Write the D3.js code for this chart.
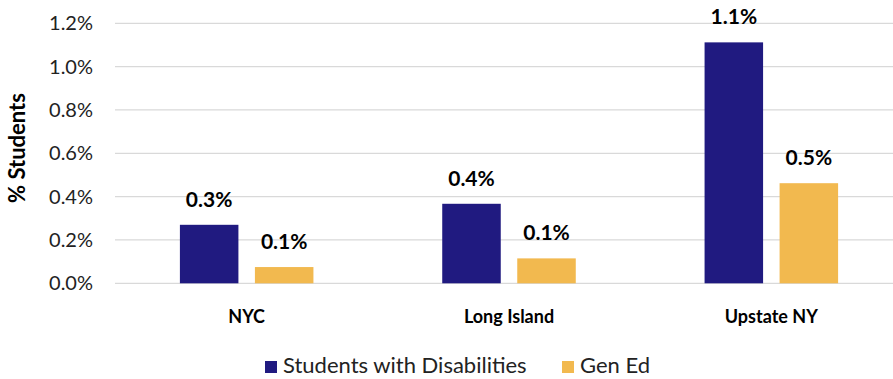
<!DOCTYPE html>
<html lang="en">
<head>
  <meta charset="UTF-8">
  <title>% Students by Region</title>
  <script src="https://d3js.org/d3.v7.min.js"></script>
  <style>
    body { margin: 0; background: #fff; }
    svg { display: block; font-family: Lato, "Open Sans", sans-serif; }
  </style>
</head>
<body>
  <svg id="chart" width="893" height="379"></svg>
  <script>
    // data (percent of students)
    const regions = ["NYC", "Long Island", "Upstate NY"];
    const seriesNames = ["Students with Disabilities", "Gen Ed"];
    const swdValues = [0.27, 0.367, 1.112];
    const genEdValues = [0.075, 0.115, 0.462];
    const yTicks = [0, 0.2, 0.4, 0.6, 0.8, 1.0, 1.2];
    const colors = ["#201a80", "#f2b94f"];

    (() => {
      const svg = d3.select("#chart"),
          width = +svg.attr("width");

      const rows = regions.map((r, i) => ({ region: r, values: [swdValues[i], genEdValues[i]] }));

      const x0 = d3.scaleBand().domain(regions).range([115.5, 902.5]).paddingInner(0.491).paddingOuter(0.2455);
      const x1 = d3.scaleBand().domain(seriesNames).range([0, x0.bandwidth()]).paddingInner(0.22);
      const y = d3.scaleLinear().domain([0, 1.2]).range([283.3, 23.3]);

      // gridlines
      svg.append("g").selectAll("line")
          .data(yTicks)
          .enter().append("line")
          .attr("x1", 115)
          .attr("x2", width)
          .attr("y1", d => y(d))
          .attr("y2", d => y(d))
          .attr("stroke", "#d9d9d9")
          .attr("stroke-width", 1.3);

      // y axis labels
      const yAxis = svg.append("g")
          .attr("transform", "translate(93,0)")
          .call(d3.axisLeft(y).tickValues(yTicks).tickSize(0).tickPadding(0).tickFormat(d => d.toFixed(1) + "%"));
      yAxis.select(".domain").remove();
      yAxis.selectAll("text")
          .attr("font-family", "Lato, sans-serif")
          .attr("font-size", "20px")
          .attr("fill", "#222");

      // bars
      const groups = svg.append("g").selectAll("g")
          .data(rows)
          .enter().append("g")
          .attr("transform", d => `translate(${x0(d.region)},0)`);

      groups.selectAll("rect")
          .data(d => d.values.map((v, i) => ({ key: seriesNames[i], value: v, idx: i })))
          .enter().append("rect")
          .attr("x", d => x1(d.key))
          .attr("y", d => y(d.value))
          .attr("width", x1.bandwidth())
          .attr("height", d => y(0) - y(d.value))
          .attr("fill", d => colors[d.idx]);

      // value labels
      groups.selectAll("text")
          .data(d => d.values.map((v, i) => ({ key: seriesNames[i], value: v })))
          .enter().append("text")
          .attr("x", d => x1(d.key) + x1.bandwidth() / 2)
          .attr("y", d => y(d.value) - 18)
          .attr("text-anchor", "middle")
          .attr("font-size", "21px")
          .attr("font-weight", "bold")
          .attr("fill", "#000")
          .text(d => d.value.toFixed(1) + "%");

      // x category labels
      svg.append("g").selectAll("text")
          .data(regions)
          .enter().append("text")
          .attr("x", d => x0(d) + x0.bandwidth() / 2)
          .attr("y", 323)
          .attr("text-anchor", "middle")
          .attr("font-size", "18px")
          .attr("font-weight", "bold")
          .attr("fill", "#000")
          .text(d => d);

      // y axis title
      svg.append("text")
          .attr("transform", "translate(25,148) rotate(-90)")
          .attr("text-anchor", "middle")
          .attr("font-size", "22px")
          .attr("font-weight", "bold")
          .attr("fill", "#000")
          .text("% Students");

      // legend
      const legendX = [265, 562];
      const legend = svg.append("g").selectAll("g")
          .data(seriesNames)
          .enter().append("g")
          .attr("transform", (d, i) => `translate(${legendX[i]},361)`);
      legend.append("rect")
          .attr("width", 12)
          .attr("height", 12)
          .attr("fill", (d, i) => colors[i]);
      legend.append("text")
          .attr("x", 18)
          .attr("y", 11.5)
          .attr("font-size", "22px")
          .attr("fill", "#222")
          .text(d => d);
    })();
  </script>
</body>
</html>
